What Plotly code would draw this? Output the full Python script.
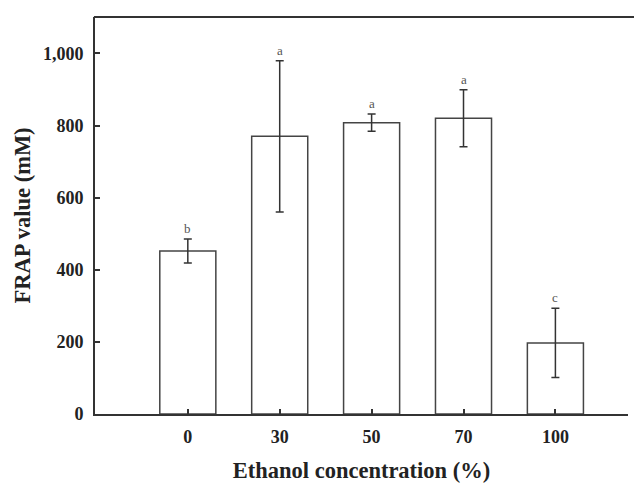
import plotly.graph_objects as go

categories = ["0", "30", "50", "70", "100"]
frap_mean = [452, 770, 808, 820, 197]
frap_err = [33, 210, 24, 79, 96]
letters = ["b", "a", "a", "a", "c"]
y_ticks = [0, 200, 400, 600, 800, 1000]

LINE = "#333333"
FONT = "Liberation Serif"

fig = go.Figure()
fig.add_trace(go.Bar(
    x=categories, y=frap_mean, width=0.61,
    marker=dict(color="white", line=dict(color="#444444", width=1.5)),
    error_y=dict(type="data", array=frap_err, visible=True,
                 color=LINE, thickness=1.5, width=4),
    showlegend=False,
))

for i, (m, e, l) in enumerate(zip(frap_mean, frap_err, letters)):
    fig.add_annotation(x=i, y=m + e, xref="x", yref="y", text=l,
                       showarrow=False, yanchor="bottom", yshift=1,
                       font=dict(family=FONT, size=13, color="#555555"))

# top frame line, running on to the right edge of the picture (frame open on the right)
fig.add_shape(type="line", xref="paper", yref="paper",
              x0=-0.002, x1=1.012, y0=1, y1=1,
              line=dict(color=LINE, width=2))

fig.update_layout(
    width=634, height=483,
    margin=dict(l=95, r=6, t=17, b=69),
    plot_bgcolor="white", paper_bgcolor="white",
    font=dict(family=FONT, color="#222222"),
)
fig.update_xaxes(
    type="category", range=[-1.01, 4.79],
    showline=True, linecolor=LINE, linewidth=2, mirror=False,
    ticks="inside", ticklen=5, tickwidth=1.5, tickcolor=LINE,
    showgrid=False, zeroline=False, ticklabelstandoff=5, automargin=False,
    tickfont=dict(family=FONT, size=18, color="#222222", weight="bold"),
    title=dict(text="<b>Ethanol concentration (%)</b>",
               font=dict(family=FONT, size=22.5, color="#222222"), standoff=18),
)
fig.update_yaxes(
    range=[0, 1101], tickvals=y_ticks, tickformat=",d",
    showline=True, linecolor=LINE, linewidth=2,
    ticks="inside", ticklen=5, tickwidth=1.5, tickcolor=LINE,
    showgrid=False, zeroline=False, ticklabelstandoff=6, automargin=False,
    tickfont=dict(family=FONT, size=18, color="#222222", weight="bold"),
    title=dict(text="<b>FRAP value (mM)</b>",
               font=dict(family=FONT, size=22.5, color="#222222"), standoff=6),
)

fig.write_html(
    "out.html",
    config={"displayModeBar": False},
    post_script=("document.body.style.margin='0';"
                 "document.body.style.overflow='hidden';"
                 "document.documentElement.style.overflow='hidden';"),
)
